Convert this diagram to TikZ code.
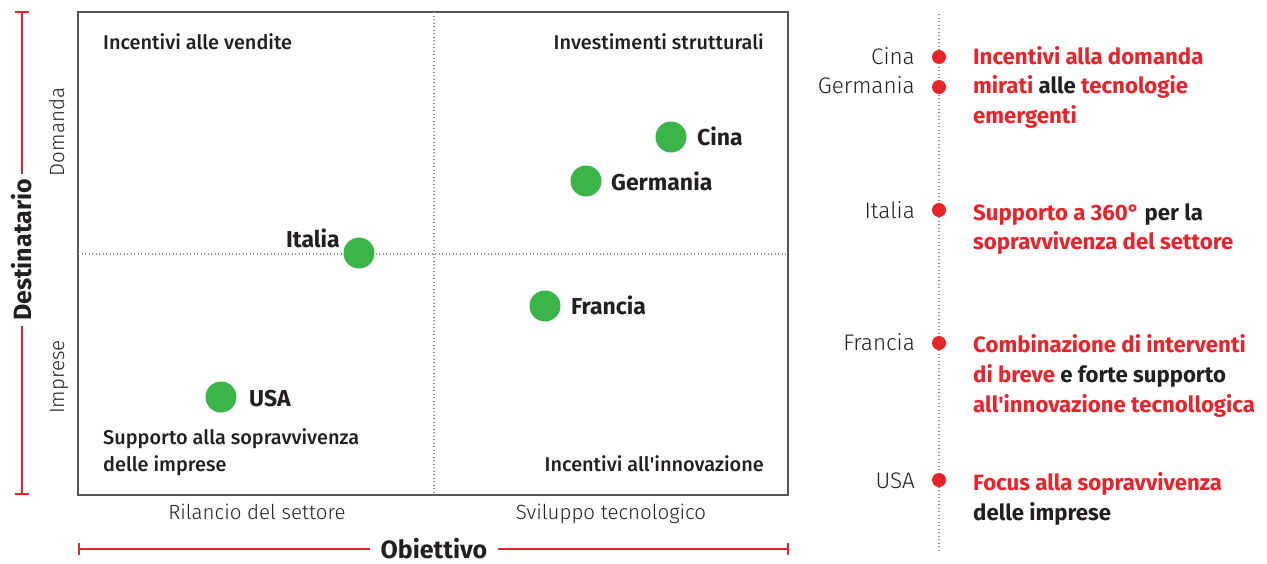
\documentclass[tikz,border=0pt]{standalone}
\usepackage{fontspec}
\setmainfont{Fira Sans}
\newfontfamily\firamed{Fira Sans Medium}
\newfontfamily\firalight{Fira Sans Light}
\definecolor{redA}{HTML}{E8232A}
\definecolor{greenA}{HTML}{3BB54A}
\definecolor{boxgray}{HTML}{555555}
\definecolor{dotgray}{HTML}{8A8F98}
\definecolor{txt}{HTML}{231F20}
\tikzset{
  dotline/.style={dotgray, line width=1.3pt, dash pattern=on 1.3pt off 2.2pt},
  redaxis/.style={redA, line width=1.6pt},
  quad/.style={font=\firamed\fontsize{19.9}{22}\selectfont, text=txt, inner sep=0},
  axlab/.style={font=\firalight\fontsize{20.5}{22}\selectfont, text=txt, inner sep=0},
  country/.style={font=\bfseries\fontsize{23}{26}\selectfont, text=txt, inner sep=0},
  gdot/.style={circle, fill=greenA, minimum size=31pt, inner sep=0},
  rdot/.style={circle, fill=redA, minimum size=14pt, inner sep=0},
  rlab/.style={font=\firalight\fontsize{22.5}{24}\selectfont, text=txt, inner sep=0, anchor=base east},
  desc/.style={font=\bfseries\fontsize{22.2}{30}\selectfont, text=redA, inner sep=0, anchor=base west},
  bigax/.style={font=\bfseries\fontsize{25}{28}\selectfont, text=txt, inner ysep=0},
}
\newcommand{\bk}[1]{\textcolor{txt}{#1}}
\begin{document}
\begin{tikzpicture}[x=1pt,y=-1pt]
\useasboundingbox (0,0) rectangle (1267,563);
% frame
\draw[boxgray, line width=1.3pt] (78,12) rectangle (788,495);
\coordinate (qt) at (434,12);
\coordinate (qb) at (434,495);
\coordinate (ql) at (78,254);
\coordinate (qr) at (788,254);
\draw[dotline] (qt) -- (qb);
\draw[dotline] (ql) -- (qr);
% quadrant labels
\node[quad, anchor=base west] (q1) at (103,49) {Incentivi alle vendite};
\node[quad, anchor=base east] (q2) at (764,49) {Investimenti strutturali};
\node[quad, anchor=base west] (q3a) at (103,444) {Supporto alla sopravvivenza};
\node[quad, anchor=base west] (q3b) at (103,471) {delle imprese};
\node[quad, anchor=base east] (q4) at (764,471) {Incentivi all\textquotesingle innovazione};
% axis sub labels
\node[axlab, anchor=base] (xl1) at (257,519) {Rilancio del settore};
\node[axlab, anchor=base] (xl2) at (611,519) {Sviluppo tecnologico};
\node[axlab, rotate=90, anchor=base] (yl1) at (64,132) {Domanda};
\node[axlab, rotate=90, anchor=base] (yl2) at (64,377) {Imprese};
% left axis
\coordinate (la) at (22,12);
\coordinate (lb) at (22,494);
\node[bigax, rotate=90, inner xsep=5pt] (dest) at (22,250) {Destinatario};
\draw[redaxis] (la) -- (dest.east);
\draw[redaxis] (dest.west) -- (lb);
\draw[redaxis] ([xshift=-7pt]la) -- ([xshift=7pt]la);
\draw[redaxis] ([xshift=-7pt]lb) -- ([xshift=7pt]lb);
% bottom axis
\coordinate (ba) at (79,549);
\coordinate (bb) at (788,549);
\node[bigax, inner xsep=10pt, anchor=base] (obj) at (434,558) {Obiettivo};
\draw[redaxis] (ba) -- (obj.west |- ba);
\draw[redaxis] (obj.east |- bb) -- (bb);
\draw[redaxis] ([yshift=-6pt]ba) -- ([yshift=6pt]ba);
\draw[redaxis] ([yshift=-6pt]bb) -- ([yshift=6pt]bb);
% green dots
\node[gdot] (cina) at (671,137) {};
\node[gdot] (ger) at (586,181) {};
\node[gdot] (ita) at (359,253) {};
\node[gdot] (fra) at (545,306) {};
\node[gdot] (usa) at (221,397) {};
\node[country, anchor=base west] (lcina) at (697,145) {Cina};
\node[country, anchor=base west] (lger) at (611,190) {Germania};
\node[country, anchor=base east] (lita) at (340,247) {Italia};
\node[country, anchor=base west] (lfra) at (571,314) {Francia};
\node[country, anchor=base west] (lusa) at (249,406) {USA};
% right timeline
\coordinate (tt) at (939,14);
\coordinate (tb) at (939,551);
\draw[dotline] (tt) -- (tb);
\node[rdot] (r1) at (939,57) {};
\node[rdot] (r2) at (939,87) {};
\node[rdot] (r3) at (939,210) {};
\node[rdot] (r4) at (939,343) {};
\node[rdot] (r5) at (939,480) {};
\node[rlab] (c1) at (915,64) {Cina};
\node[rlab] (c2) at (915,93) {Germania};
\node[rlab] (c3) at (915,218) {Italia};
\node[rlab] (c4) at (915,350) {Francia};
\node[rlab] (c5) at (915,488) {USA};
\node[desc] (d1a) at (973,64) {Incentivi alla domanda};
\node[desc] (d1b) at (973,93) {mirati \bk{alle} tecnologie};
\node[desc] (d1c) at (973,123) {emergenti};
\node[desc] (d2a) at (973,220) {Supporto a 360° \bk{per la}};
\node[desc] (d2b) at (973,249) {sopravvivenza del settore};
\node[desc] (d3a) at (973,352) {Combinazione di interventi};
\node[desc] (d3b) at (973,382) {di breve \bk{e forte supporto}};
\node[desc] (d3c) at (973,412) {all\textquotesingle innovazione tecnollogica};
\node[desc] (d4a) at (973,490) {Focus alla sopravvivenza};
\node[desc] (d4b) at (973,520) {\bk{delle imprese}};
\end{tikzpicture}
\end{document}
